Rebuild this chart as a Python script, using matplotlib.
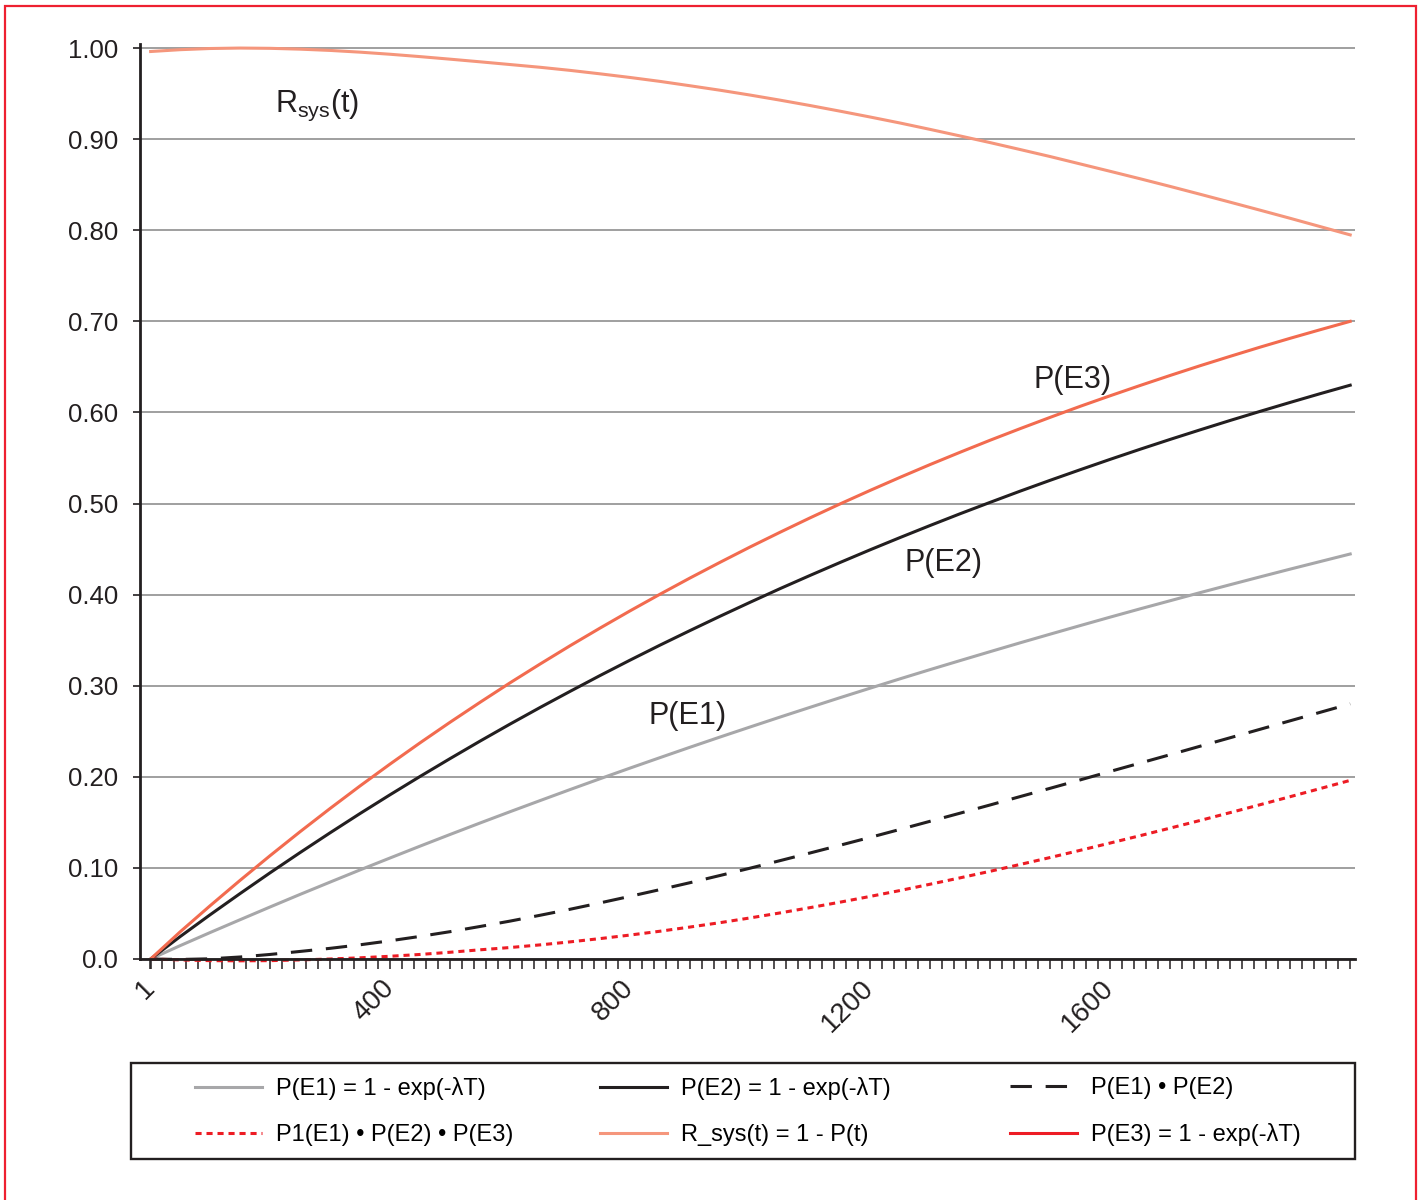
# Failure probabilities of three events and system reliability over time
import numpy as np
import matplotlib.pyplot as plt
from matplotlib.lines import Line2D
from matplotlib.patches import Rectangle

plt.rcParams['font.family'] = ['Liberation Sans', 'DejaVu Sans']
plt.rcParams['mathtext.fontset'] = 'custom'
plt.rcParams['mathtext.rm'] = 'Liberation Sans'

# time points (hours)
T = [1, 50, 100, 150, 200, 250, 300, 350, 400, 450, 500,
     550, 600, 650, 700, 750, 800, 850, 900, 950, 1000,
     1050, 1100, 1150, 1200, 1250, 1300, 1350, 1400, 1450, 1500,
     1550, 1600, 1650, 1700, 1750, 1800, 1850, 1900, 1950, 2000]

# values
P_E1 = [0.0000, 0.0146, 0.0290, 0.0431, 0.0571, 0.0709, 0.0844, 0.0978, 0.1109, 0.1239, 0.1367,
        0.1493, 0.1617, 0.1739, 0.1860, 0.1979, 0.2096, 0.2211, 0.2325, 0.2437, 0.2547,
        0.2656, 0.2763, 0.2869, 0.2973, 0.3076, 0.3177, 0.3276, 0.3374, 0.3471, 0.3566,
        0.3660, 0.3753, 0.3844, 0.3933, 0.4022, 0.4109, 0.4195, 0.4280, 0.4363, 0.4446]
P_E2 = [0.0000, 0.0245, 0.0485, 0.0718, 0.0946, 0.1168, 0.1385, 0.1597, 0.1803, 0.2004, 0.2200,
        0.2392, 0.2579, 0.2761, 0.2938, 0.3112, 0.3281, 0.3446, 0.3606, 0.3763, 0.3916,
        0.4066, 0.4211, 0.4353, 0.4492, 0.4627, 0.4759, 0.4888, 0.5013, 0.5136, 0.5255,
        0.5371, 0.5485, 0.5596, 0.5704, 0.5809, 0.5912, 0.6012, 0.6110, 0.6206, 0.6299]
P_E3 = [0.0000, 0.0297, 0.0584, 0.0863, 0.1134, 0.1397, 0.1652, 0.1900, 0.2140, 0.2373, 0.2599,
        0.2818, 0.3032, 0.3238, 0.3439, 0.3633, 0.3822, 0.4005, 0.4183, 0.4355, 0.4523,
        0.4685, 0.4843, 0.4996, 0.5144, 0.5288, 0.5428, 0.5563, 0.5695, 0.5822, 0.5946,
        0.6067, 0.6183, 0.6296, 0.6406, 0.6513, 0.6616, 0.6717, 0.6814, 0.6908, 0.7000]
P_E1E2 = [0.0000, -0.0005, 0.0002, 0.0022, 0.0050, 0.0083, 0.0117, 0.0156, 0.0200, 0.0248, 0.0300,
          0.0357, 0.0416, 0.0480, 0.0546, 0.0616, 0.0688, 0.0762, 0.0838, 0.0917, 0.0997,
          0.1080, 0.1164, 0.1249, 0.1335, 0.1423, 0.1512, 0.1601, 0.1691, 0.1783, 0.1874,
          0.1966, 0.2059, 0.2151, 0.2243, 0.2336, 0.2429, 0.2522, 0.2615, 0.2708, 0.2801]
P_E1E2E3 = [0.0000, -0.0010, -0.0018, -0.0020, -0.0018, -0.0010, 0.0000, 0.0013, 0.0030, 0.0050, 0.0074,
            0.0101, 0.0126, 0.0155, 0.0188, 0.0224, 0.0263, 0.0305, 0.0351, 0.0399, 0.0451,
            0.0506, 0.0564, 0.0624, 0.0687, 0.0752, 0.0821, 0.0891, 0.0963, 0.1038, 0.1114,
            0.1193, 0.1273, 0.1354, 0.1437, 0.1521, 0.1607, 0.1694, 0.1782, 0.1871, 0.1961]
R_sys = [0.9962, 0.9982, 0.9995, 1.0000, 0.9997, 0.9988, 0.9974, 0.9955, 0.9932, 0.9906, 0.9878,
         0.9849, 0.9819, 0.9789, 0.9755, 0.9717, 0.9677, 0.9634, 0.9586, 0.9537, 0.9484,
         0.9428, 0.9369, 0.9307, 0.9243, 0.9177, 0.9107, 0.9035, 0.8962, 0.8886, 0.8809,
         0.8728, 0.8647, 0.8565, 0.8481, 0.8395, 0.8308, 0.8220, 0.8131, 0.8040, 0.7949]

yticks = [0.0, 0.1, 0.2, 0.3, 0.4, 0.5, 0.6, 0.7, 0.8, 0.9, 1.0]
ylabels = ['0.0', '0.10', '0.20', '0.30', '0.40', '0.50', '0.60', '0.70', '0.80', '0.90', '1.00']
xticks = [1, 400, 800, 1200, 1600]

c_gray = '#a7a7a9'
c_black = '#231f20'
c_red = '#ed1c24'
c_e3 = '#f26b4f'
c_rsys = '#f5967c'
lw = 2.2

fig = plt.figure(figsize=(14.23, 12), dpi=100)
ax = fig.add_axes([140/1423, 1 - 959/1200, (1355 - 140)/1423, (959 - 43.5)/1200])

ax.plot(T, P_E1, color=c_gray, lw=lw)
ax.plot(T, P_E2, color=c_black, lw=lw)
ax.plot(T, P_E1E2, color=c_black, lw=lw, dashes=(7, 4.5), clip_on=False)
ax.plot(T, P_E1E2E3, color=c_red, lw=lw, dashes=(2, 1.6), clip_on=False)
ax.plot(T, R_sys, color=c_rsys, lw=lw)
ax.plot(T, P_E3, color=c_e3, lw=lw)

ax.set_xlim(-16.7, 2008)
ax.set_ylim(0, 1.005)

ax.set_yticks(yticks)
ax.set_yticklabels(ylabels)
ax.set_xticks(xticks)
ax.set_xticklabels([str(v) for v in xticks])
ax.set_xticks(np.arange(0, 2001, 20), minor=True)
for lab in ax.get_xticklabels():
    lab.set_rotation(45)
    lab.set_rotation_mode('anchor')
    lab.set_ha('right')
    lab.set_va('center')

ax.tick_params(axis='y', direction='out', length=5, width=1.2, pad=11, labelsize=18.5, colors='#231f20')
ax.tick_params(axis='x', which='both', direction='out', length=7, width=1.1, colors='#231f20')
ax.tick_params(axis='x', which='major', pad=11, labelsize=20)

ax.grid(axis='y', color='#858585', lw=1.1)
ax.set_axisbelow(True)
for s in ['top', 'right']:
    ax.spines[s].set_visible(False)
for s in ['left', 'bottom']:
    ax.spines[s].set_linewidth(2)
    ax.spines[s].set_color('#231f20')
    ax.spines[s].set_zorder(5)

# curve labels
ax.text(830, 0.267, 'P(E1)', fontsize=22, va='center', color='#231f20')
ax.text(1257, 0.435, 'P(E2)', fontsize=22, va='center', color='#231f20')
ax.text(1472, 0.636, 'P(E3)', fontsize=22, va='center', color='#231f20')
ax.text(208, 0.937, r'R$_{\mathregular{sys}}$(t)', fontsize=22, va='center', color='#231f20')

# legend: one block per column
columns = [
    ([Line2D([], [], color=c_gray, lw=lw), Line2D([], [], color=c_red, lw=lw, dashes=(2, 1.6))],
     ['P(E1) = 1 - exp(-λT)', 'P1(E1) • P(E2) • P(E3)'], 195),
    ([Line2D([], [], color=c_black, lw=lw), Line2D([], [], color=c_rsys, lw=lw)],
     ['P(E2) = 1 - exp(-λT)', 'R_sys(t) = 1 - P(t)'], 600),
    ([Line2D([], [], color=c_black, lw=lw, dashes=(7, 4.5)), Line2D([], [], color=c_red, lw=lw)],
     ['P(E1) • P(E2)', 'P(E3) = 1 - exp(-λT)'], 1010),
]
for hs, ls, x0 in columns:
    fig.legend(hs, ls, loc='center left', bbox_to_anchor=(x0/1423, 1 - 1111.5/1200),
               frameon=False, fontsize=17, handlelength=2.85, handletextpad=0.6,
               labelspacing=1.0, borderpad=0, borderaxespad=0)

fig.patches.append(Rectangle((131/1423, 1 - 1159/1200), (1355 - 131)/1423, 96/1200,
                             transform=fig.transFigure, fill=False, ec='#231f20', lw=1.7))
fig.patches.append(Rectangle((5/1423, -0.01), (1416 - 5)/1423, 1 - 6/1200 + 0.01,
                             transform=fig.transFigure, fill=False, ec='#ee2030', lw=1.6))

fig.savefig('out.png', dpi=100)
